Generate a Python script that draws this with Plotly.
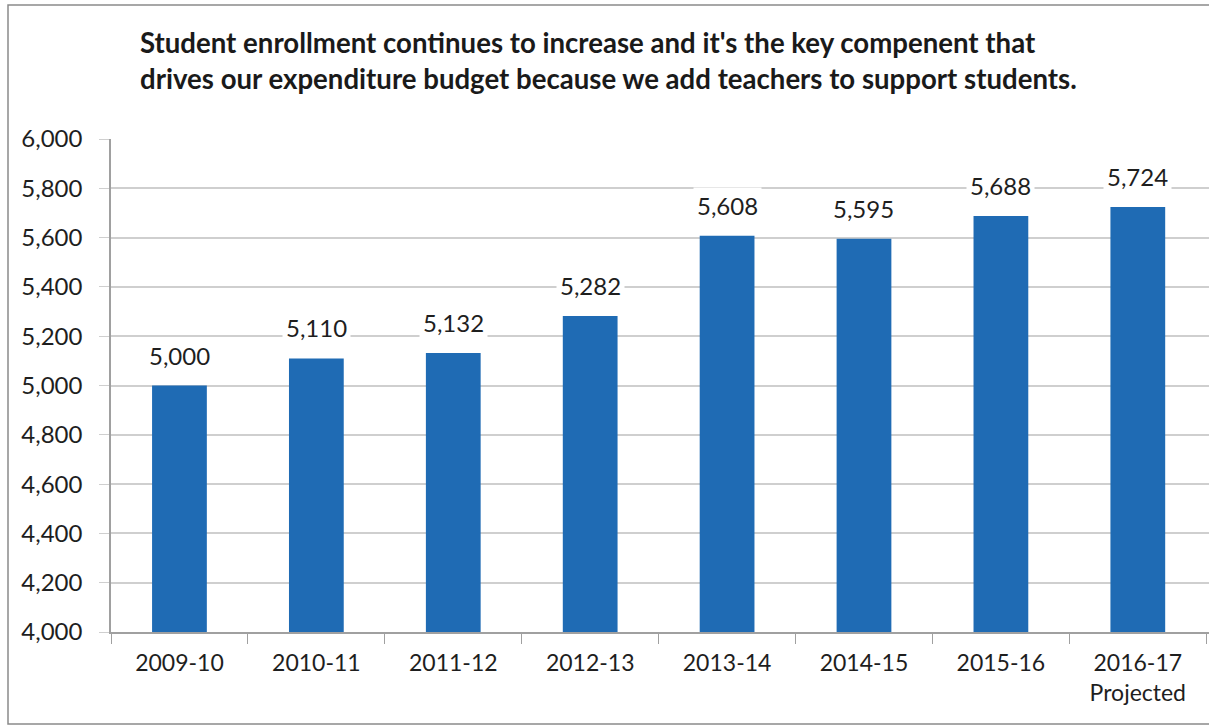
import plotly.graph_objects as go

categories = ["2009-10", "2010-11", "2011-12", "2012-13", "2013-14", "2014-15", "2015-16", "2016-17<br>Projected"]
enrollment = [5000, 5110, 5132, 5282, 5608, 5595, 5688, 5724]
y_ticks = [4000, 4200, 4400, 4600, 4800, 5000, 5200, 5400, 5600, 5800, 6000]
y_tick_labels = [f"{v:,}" for v in y_ticks]
title_lines = [
    "Student enrollment continues to increase and it's the key compenent that",
    "drives our expenditure budget because we add teachers to support students.",
]

FONT = "Lato, 'Open Sans', sans-serif"
BAR = "#1F6BB4"

fig = go.Figure()
fig.add_trace(go.Bar(
    x=categories, y=enrollment, width=0.4,
    marker=dict(color=BAR, line=dict(width=0)),
    hoverinfo="skip",
))

for c, v in zip(categories, enrollment):
    fig.add_annotation(
        x=c, y=v, xref="x", yref="y", text=f"{v:,}", showarrow=False,
        yanchor="bottom", yshift=12, bgcolor="white", borderpad=3,
        font=dict(family=FONT, size=24, color="#1e1e1e"),
    )

fig.add_annotation(
    xref="paper", yref="paper", x=(138 - 111) / 1098, y=(632 - 24) / 493,
    xanchor="left", yanchor="top", align="left", showarrow=False,
    text="<b>" + "<br>".join(title_lines) + "</b>",
    font=dict(family=FONT, size=27.6, color="#1a1a1a"),
)

# chart border (scanned frame)
fig.add_shape(type="rect", xref="paper", yref="paper",
              x0=(8 - 111) / 1098, x1=1.02, y0=(632 - 724) / 493, y1=(632 - 5) / 493,
              line=dict(color="#8a8a8a", width=1.5), layer="below")

fig.update_layout(
    width=1209, height=727,
    margin=dict(l=111, r=0, t=139, b=95),
    paper_bgcolor="white", plot_bgcolor="white",
    showlegend=False,
    font=dict(family=FONT, color="#1e1e1e"),
)
fig.update_yaxes(
    range=[4000, 6000], tickvals=y_ticks, ticktext=y_tick_labels,
    showgrid=True, gridcolor="#cfcfcf", gridwidth=1.5,
    showline=True, linecolor="#a0a0a0", linewidth=1.5,
    ticks="outside", ticklen=10, tickcolor="#cfcfcf", ticklabelstandoff=12,
    tickfont=dict(family=FONT, size=24, color="#1e1e1e"),
    zeroline=False,
)
fig.update_xaxes(
    type="category",
    range=[-0.5, 7.52], showline=True, linecolor="#a0a0a0", linewidth=1.5,
    ticks="outside", tickson="boundaries", ticklen=10, tickcolor="#a0a0a0",
    ticklabelstandoff=10,
    tickfont=dict(family=FONT, size=23, color="#1e1e1e"),
    showgrid=False,
)

fig.write_html("out.html")
